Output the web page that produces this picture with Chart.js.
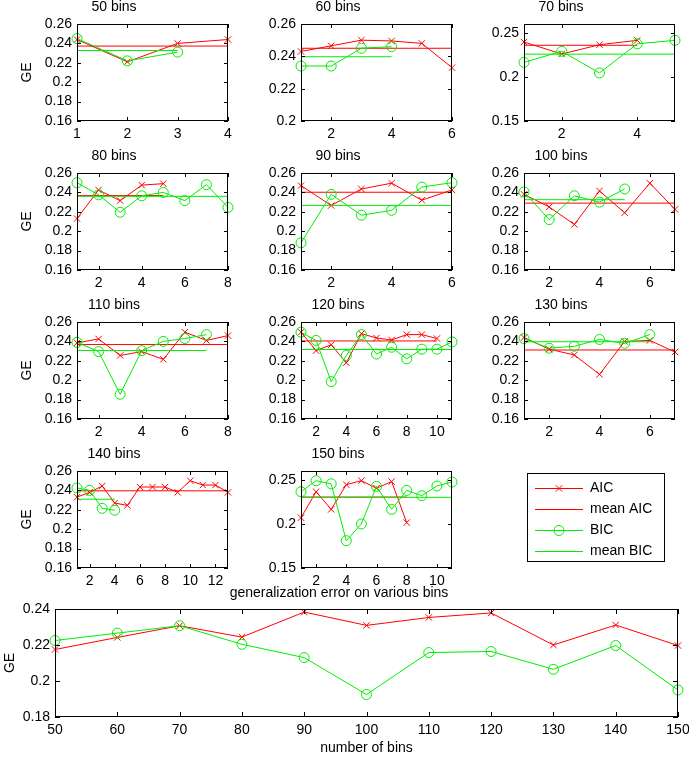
<!DOCTYPE html>
<html>
<head>
<meta charset="utf-8">
<script src="https://cdn.jsdelivr.net/npm/chart.js@4.4.1/dist/chart.umd.min.js"></script>
<style>
  body { margin: 0; background: #fff; }
  #fig { position: relative; width: 689px; height: 757px; overflow: hidden; background: #fff; }
  #fig canvas, #fig .legend-box { position: absolute; }
  .legend-box { border: 1px solid #000; box-sizing: border-box; background: #fff; overflow: hidden; }
</style>
</head>
<body>
<div id="fig"></div>
<script>
// ---- data ----
var panelTitles = ["50 bins", "60 bins", "70 bins", "80 bins", "90 bins", "100 bins",
                   "110 bins", "120 bins", "130 bins", "140 bins", "150 bins"];

var aic50 = [0.244, 0.221, 0.240, 0.244];
var bic50 = [0.245, 0.222, 0.231];
var aic60 = [0.243, 0.2465, 0.250, 0.2495, 0.248, 0.233];
var bic60 = [0.234, 0.234, 0.245, 0.246];
var aic70 = [0.2395, 0.226, 0.2365, 0.2415];
var bic70 = [0.2165, 0.229, 0.2045, 0.2375, 0.2415];
var aic80 = [0.213, 0.2425, 0.2315, 0.2475, 0.249];
var bic80 = [0.250, 0.2375, 0.2195, 0.2365, 0.240, 0.2315, 0.248, 0.2245];
var aic90 = [0.247, 0.2265, 0.2435, 0.2495, 0.232, 0.2425];
var bic90 = [0.188, 0.238, 0.2165, 0.2215, 0.2455, 0.250];
var aic100 = [0.238, 0.225, 0.207, 0.2415, 0.219, 0.2495, 0.2225];
var bic100 = [0.2405, 0.212, 0.2365, 0.230, 0.2435];
var aic110 = [0.2385, 0.2425, 0.2255, 0.2295, 0.2215, 0.2495, 0.241, 0.246];
var bic110 = [0.239, 0.2295, 0.1855, 0.2305, 0.240, 0.243, 0.247];
var aic120 = [0.2495, 0.2305, 0.2365, 0.218, 0.248, 0.2435, 0.2415, 0.247, 0.247, 0.243];
var bic120 = [0.2495, 0.241, 0.1985, 0.2255, 0.247, 0.227, 0.234, 0.222, 0.232, 0.232, 0.2395];
var aic130 = [0.244, 0.232, 0.226, 0.206, 0.240, 0.241, 0.229];
var bic130 = [0.243, 0.233, 0.235, 0.242, 0.238, 0.247];
var aic140 = [0.233, 0.238, 0.2445, 0.227, 0.2245, 0.2435, 0.2435, 0.2435, 0.238, 0.250, 0.2455, 0.2455, 0.238];
var bic140 = [0.2425, 0.240, 0.2215, 0.2195];
var aic150 = [0.207, 0.2365, 0.2165, 0.2445, 0.249, 0.2405, 0.248, 0.2015];
var bic150 = [0.2365, 0.249, 0.2455, 0.181, 0.200, 0.2425, 0.2165, 0.238, 0.232, 0.243, 0.2475];

var aicRuns = [aic50, aic60, aic70, aic80, aic90, aic100, aic110, aic120, aic130, aic140, aic150];
var bicRuns = [bic50, bic60, bic70, bic80, bic90, bic100, bic110, bic120, bic130, bic140, bic150];

// tick labels of each small panel
var xTickLists = [[1, 2, 3, 4], [2, 4, 6], [2, 4], [2, 4, 6, 8], [2, 4, 6], [2, 4, 6],
                  [2, 4, 6, 8], [2, 4, 6, 8, 10], [2, 4, 6], [2, 4, 6, 8, 10, 12], [2, 4, 6, 8, 10]];
var yTicksDefault = [0.16, 0.18, 0.2, 0.22, 0.24, 0.26];
var yTicks60 = [0.2, 0.22, 0.24, 0.26];
var yTicksWide = [0.15, 0.2, 0.25];
var yTickLists = [yTicksDefault, yTicks60, yTicksWide, yTicksDefault, yTicksDefault, yTicksDefault,
                  yTicksDefault, yTicksDefault, yTicksDefault, yTicksDefault, yTicksWide];
var yMins = [0.16, 0.2, 0.15, 0.16, 0.16, 0.16, 0.16, 0.16, 0.16, 0.16, 0.15];
var yMaxs = [0.26, 0.26, 0.26, 0.26, 0.26, 0.26, 0.26, 0.26, 0.26, 0.26, 0.26];

// generalization error over the bin counts (bottom panel)
var binCounts = [50, 60, 70, 80, 90, 100, 110, 120, 130, 140, 150];
var aicGE = [0.2175, 0.2242, 0.2307, 0.2244, 0.2383, 0.2309, 0.2353, 0.2378, 0.2200, 0.2311, 0.2197];
var bicGE = [0.2225, 0.2266, 0.2307, 0.2204, 0.2130, 0.1925, 0.2158, 0.2164, 0.2065, 0.2197, 0.1950];
var geYTicks = [0.18, 0.2, 0.22, 0.24];

var legendNames = ["AIC", "mean AIC", "BIC", "mean BIC"];

// ---- layout ----
var RED = "#ff0000", GREEN = "#00ee00", INK = "#000";
var colLeft = [77, 301, 524], rowTop = [24, 173, 322, 471];
var PW = 151, PH = 97, AXW = 77, TITLEH = 24, XAXH = 20, PADR = 14, PADB = 6;

Chart.defaults.font.family = "'Liberation Sans', Arial, Helvetica, sans-serif";
Chart.defaults.font.size = 14;
Chart.defaults.color = INK;

var fig = document.getElementById("fig");

function pts(ys, xs) {
  return ys.map(function (v, i) { return { x: xs ? xs[i] : i + 1, y: v }; });
}
function meanLine(ys) {
  var m = ys.reduce(function (a, b) { return a + b; }, 0) / ys.length;
  return [{ x: 1, y: m }, { x: ys.length, y: m }];
}
function fixTicks(list) {
  return function (scale) { scale.ticks = list.map(function (v) { return { value: v }; }); };
}
function fmt(v) { return String(Math.round(v * 1000) / 1000); }

// box around the axes with inward tick marks on all four sides
var axesBox = {
  id: "axesBox",
  afterDatasetsDraw: function (chart, args, opts) {
    var a = chart.chartArea, ctx = chart.ctx, len = opts.len || 4;
    var sx = chart.scales.x, sy = chart.scales.y;
    ctx.save();
    ctx.strokeStyle = INK;
    ctx.lineWidth = 1;
    ctx.beginPath();
    sx.ticks.forEach(function (t) {
      var p = Math.round(sx.getPixelForValue(t.value)) + 0.5;
      ctx.moveTo(p, a.bottom); ctx.lineTo(p, a.bottom - len);
      ctx.moveTo(p, a.top); ctx.lineTo(p, a.top + len);
    });
    sy.ticks.forEach(function (t) {
      var p = Math.round(sy.getPixelForValue(t.value)) + 0.5;
      ctx.moveTo(a.left, p); ctx.lineTo(a.left + len, p);
      ctx.moveTo(a.right, p); ctx.lineTo(a.right - len, p);
    });
    ctx.stroke();
    ctx.strokeRect(a.left + 0.5, a.top + 0.5, a.right - a.left - 1, a.bottom - a.top - 1);
    ctx.restore();
  }
};

function addCanvas(left, top, w, h, parent) {
  var c = document.createElement("canvas");
  c.width = w; c.height = h;
  c.style.left = left + "px"; c.style.top = top + "px";
  (parent || fig).appendChild(c);
  return c;
}

function seriesSets(aic, bic, xs) {
  return [
    { data: meanLine(bic), borderColor: GREEN, borderWidth: 1, pointRadius: 0 },
    { data: pts(bic, xs), borderColor: GREEN, borderWidth: 1, pointStyle: "circle", pointRadius: 5,
      pointBorderColor: GREEN, pointBackgroundColor: "rgba(0,0,0,0)", pointBorderWidth: 1 },
    { data: meanLine(aic), borderColor: RED, borderWidth: 1, pointRadius: 0 },
    { data: pts(aic, xs), borderColor: RED, borderWidth: 1, pointStyle: "crossRot", pointRadius: 4.5,
      pointBorderColor: RED, pointBorderWidth: 1 }
  ];
}

function axisX(min, max, list, height, extra) {
  var o = {
    type: "linear", min: min, max: max,
    grid: { display: false, drawTicks: false }, border: { display: false },
    afterBuildTicks: fixTicks(list),
    afterFit: function (s) { s.height = height; },
    ticks: { padding: 5, maxRotation: 0, autoSkip: false, callback: fmt }
  };
  return Object.assign(o, extra || {});
}
function axisY(min, max, list, width, extra) {
  var o = {
    type: "linear", min: min, max: max,
    grid: { display: false, drawTicks: false }, border: { display: false },
    afterBuildTicks: fixTicks(list),
    afterFit: function (s) { s.width = width; },
    ticks: { padding: 5, autoSkip: false, callback: fmt }
  };
  return Object.assign(o, extra || {});
}

function smallPanel(k) {
  var col = k % 3, row = Math.floor(k / 3);
  var c = addCanvas(colLeft[col] - AXW, rowTop[row] - TITLEH, AXW + PW + PADR, TITLEH + PH + XAXH + PADB);
  var n = Math.max(aicRuns[k].length, bicRuns[k].length);
  var sets = seriesSets(aicRuns[k], bicRuns[k]);
  sets.forEach(function (d) { d.clip = false; d.tension = 0; });
  new Chart(c, {
    type: "line",
    data: { datasets: sets },
    options: {
      responsive: false,
      animation: false,
      layout: { padding: { left: 0, top: 0, bottom: PADB, right: PADR } },
      plugins: {
        legend: { display: false },
        tooltip: { enabled: false },
        title: { display: true, text: panelTitles[k], color: INK,
                 font: { size: 14, weight: "normal", lineHeight: 1 }, padding: { top: 0, bottom: 10 } },
        axesBox: { len: 4 }
      },
      scales: {
        x: axisX(1, n, xTickLists[k], XAXH),
        y: axisY(yMins[k], yMaxs[k], yTickLists[k], AXW, {
          title: { display: col === 0, text: "GE", color: INK,
                   font: { size: 14, lineHeight: 1 }, padding: { top: 20, bottom: 0 } }
        })
      }
    },
    plugins: [axesBox]
  });
}

for (var k = 0; k < panelTitles.length; k++) smallPanel(k);

// ---- bottom panel ----
(function () {
  var left = 55, right = 678, top = 609, bottom = 717, cw = 700;
  var cTop = top - 23;
  var c = addCanvas(0, cTop, cw, 757 - cTop);
  var sets = seriesSets(aicGE, bicGE, binCounts).filter(function (d, i) { return i % 2 === 1; });
  sets.forEach(function (d) { d.clip = false; d.tension = 0; });
  new Chart(c, {
    type: "line",
    data: { datasets: sets },
    options: {
      responsive: false,
      animation: false,
      layout: { padding: { left: 0, top: 0, bottom: 0, right: cw - right } },
      plugins: {
        legend: { display: false },
        tooltip: { enabled: false },
        title: { display: true, text: "generalization error on various bins", color: INK,
                 font: { size: 14, weight: "normal", lineHeight: 1 }, padding: { top: 0, bottom: 9 } },
        axesBox: { len: 5 }
      },
      scales: {
        x: axisX(50, 150, binCounts, 757 - bottom, {
          title: { display: true, text: "number of bins", color: INK,
                   font: { size: 14, lineHeight: 1 }, padding: { top: 0, bottom: 2 } }
        }),
        y: axisY(0.18, 0.24, geYTicks, left, {
          title: { display: true, text: "GE", color: INK,
                   font: { size: 14, lineHeight: 1 }, padding: { top: 3, bottom: 0 } }
        })
      }
    },
    plugins: [axesBox]
  });
})();

// ---- legend ----
(function () {
  var box = document.createElement("div");
  box.className = "legend-box";
  box.style.left = "527px"; box.style.top = "473px";
  box.style.width = "138px"; box.style.height = "89px";
  fig.appendChild(box);
  var c = addCanvas(0, 0, 136, 110, box);

  function icon(color, marker) {
    var ic = document.createElement("canvas");
    ic.width = 48; ic.height = 14;
    var g = ic.getContext("2d");
    g.strokeStyle = color; g.lineWidth = 1;
    g.beginPath(); g.moveTo(0, 7.5); g.lineTo(48, 7.5); g.stroke();
    g.beginPath();
    if (marker === "x") {
      g.moveTo(20.8, 4.3); g.lineTo(27.2, 10.7); g.moveTo(27.2, 4.3); g.lineTo(20.8, 10.7);
    } else if (marker === "o") {
      g.arc(24, 7.5, 5, 0, Math.PI * 2);
    }
    g.stroke();
    return ic;
  }
  var icons = [icon(RED, "x"), icon(RED), icon(GREEN, "o"), icon(GREEN)];

  new Chart(c, {
    type: "line",
    data: { datasets: [] },
    options: {
      responsive: false,
      animation: false,
      layout: { padding: 0 },
      scales: { x: { display: false }, y: { display: false } },
      plugins: {
        tooltip: { enabled: false },
        legend: {
          display: true, position: "left", align: "start", maxWidth: 136,
          labels: {
            usePointStyle: true, pointStyleWidth: 48, padding: 7, color: INK,
            font: { size: 14 },
            generateLabels: function () {
              return legendNames.map(function (name, i) {
                return { text: name, pointStyle: icons[i], fillStyle: "rgba(0,0,0,0)",
                         strokeStyle: "rgba(0,0,0,0)", lineWidth: 0, hidden: false, datasetIndex: i };
              });
            }
          }
        }
      }
    }
  });
})();
</script>
</body>
</html>
